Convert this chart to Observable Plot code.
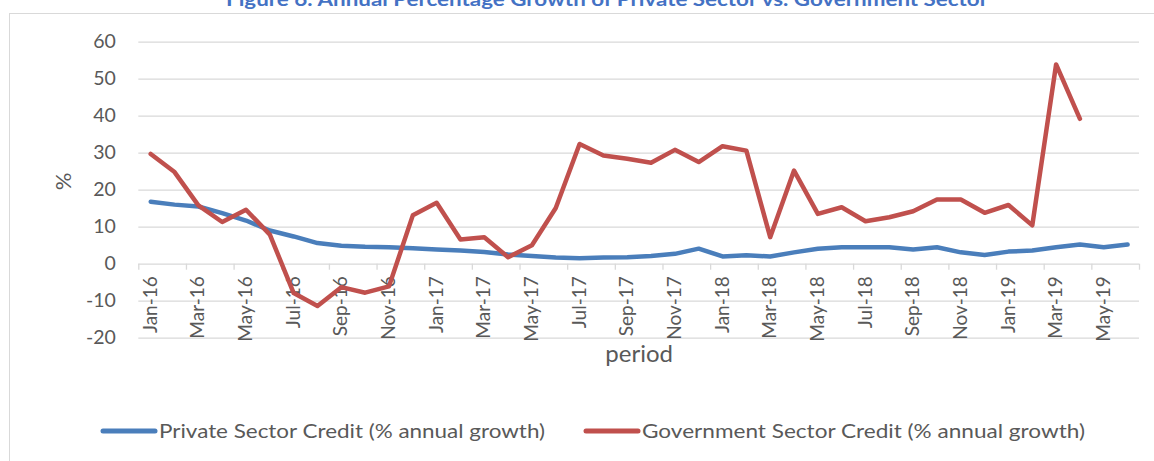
<!DOCTYPE html>
<html><head><meta charset="utf-8">
<script src="https://cdn.jsdelivr.net/npm/d3@7"></script>
<script src="https://cdn.jsdelivr.net/npm/@observablehq/plot@0.6"></script>
<style>
body{margin:0;background:#fff;overflow:hidden}
#wrap{position:relative;width:1154px;height:461px;overflow:hidden;font-family:Lato,sans-serif}
#frame{position:absolute;left:9px;top:13px;width:1160px;height:470px;border:1px solid #d9d9d9;box-sizing:border-box}
#chart{position:absolute;left:0;top:0}
#overlay{position:absolute;left:0;top:0}
</style></head><body>
<div id="wrap"><div id="frame"></div><div id="chart"></div><svg id="overlay" width="1154" height="461"></svg></div>
<script>
const titleText = "Figure 6: Annual Percentage Growth of Private Sector vs. Government Sector";
const months = ["Jan-16","Feb-16","Mar-16","Apr-16","May-16","Jun-16","Jul-16","Aug-16","Sep-16","Oct-16","Nov-16","Dec-16",
  "Jan-17","Feb-17","Mar-17","Apr-17","May-17","Jun-17","Jul-17","Aug-17","Sep-17","Oct-17","Nov-17","Dec-17",
  "Jan-18","Feb-18","Mar-18","Apr-18","May-18","Jun-18","Jul-18","Aug-18","Sep-18","Oct-18","Nov-18","Dec-18",
  "Jan-19","Feb-19","Mar-19","Apr-19","May-19","Jun-19"];
const privateCredit = [16.9,16.1,15.6,13.8,11.8,9.1,7.5,5.7,5.0,4.7,4.6,4.3,
  4.0,3.7,3.3,2.6,2.2,1.8,1.6,1.8,1.9,2.2,2.8,4.2,
  2.1,2.4,2.1,3.2,4.2,4.6,4.6,4.6,4.0,4.6,3.2,2.5,
  3.4,3.7,4.6,5.3,4.6,5.3];
const governmentCredit = [29.8,24.9,15.9,11.4,14.7,8.0,-7.8,-11.3,-6.2,-7.7,-6.0,13.2,
  16.6,6.7,7.3,1.9,5.1,15.2,32.5,29.4,28.5,27.4,30.9,27.6,
  31.9,30.7,7.3,25.3,13.6,15.4,11.6,12.7,14.3,17.5,17.5,13.9,
  16.0,10.5,54.0,39.3,null,null];
const yTicks = [-20,-10,0,10,20,30,40,50,60];
const seriesNames = ["Private Sector Credit (% annual growth)","Government Sector Credit (% annual growth)"];
const colors = ["#4A7EBB","#C0504D"];
const xTitle = "period", yTitle = "%";

const labelIdx = months.map((_, i) => i).filter(i => i % 2 === 0);
const boundaries = labelIdx.map(i => i - 0.5).concat([months.length - 0.5]);
const textColor = "#595959", gridColor = "#d9d9d9";

const chart = Plot.plot({
  width: 1154, height: 400,
  marginLeft: 138.3, marginRight: 15, marginTop: 41.7, marginBottom: 62.3,
  x: {domain: [-0.5, months.length - 0.5], axis: null},
  y: {domain: [-20, 60], axis: null},
  style: {fontFamily: "Lato, sans-serif", color: textColor, background: "transparent", overflow: "visible"},
  marks: [
    Plot.gridY(yTicks, {stroke: gridColor, strokeOpacity: 1, strokeWidth: 1.3}),
    Plot.ruleX(boundaries, {x: d => d, y1: 0, y2: 0, insetBottom: -6, stroke: gridColor, strokeWidth: 1.3}),
    Plot.axisY(yTicks, {tickSize: 0, tickPadding: 23, fontSize: 19.5, fill: textColor, label: null, tickFormat: d => String(d)}),
    Plot.text(labelIdx, {x: d => d, y: 0, text: d => months[d], rotate: -90, textAnchor: "end", dy: 12, fontSize: 19, fill: textColor}),
    Plot.text([yTitle], {frameAnchor: "left", dx: -75, rotate: -90, fontSize: 22, fill: textColor}),
    Plot.text([xTitle], {frameAnchor: "bottom", dy: 24, fontSize: 24, fill: textColor}),
    Plot.lineY(privateCredit, {x: (d, i) => i, y: d => d, stroke: colors[0], strokeWidth: 4.5, strokeLinejoin: "round", strokeLinecap: "round"}),
    Plot.lineY(governmentCredit, {x: (d, i) => i, y: d => d, stroke: colors[1], strokeWidth: 4.5, strokeLinejoin: "round", strokeLinecap: "round"})
  ]
});
document.getElementById("chart").appendChild(chart);

const ov = d3.select("#overlay");
ov.append("text").attr("x", 607).attr("y", 6).attr("text-anchor", "middle")
  .attr("textLength", 762).attr("lengthAdjust", "spacingAndGlyphs")
  .style("font", "bold 19px Lato, sans-serif").attr("fill", "#4472C4").text(titleText);
const leg = [
  {x1: 103, x2: 155, tx: 159, len: 386},
  {x1: 586, x2: 638, tx: 642, len: 443}
];
leg.forEach((l, k) => {
  ov.append("line").attr("x1", l.x1).attr("x2", l.x2).attr("y1", 431).attr("y2", 431)
    .attr("stroke", colors[k]).attr("stroke-width", 5).attr("stroke-linecap", "round");
  ov.append("text").attr("x", l.tx).attr("y", 438).attr("textLength", l.len).attr("lengthAdjust", "spacingAndGlyphs")
    .style("font", "20px Lato, sans-serif").attr("fill", textColor).text(seriesNames[k]);
});
</script>
</body></html>
